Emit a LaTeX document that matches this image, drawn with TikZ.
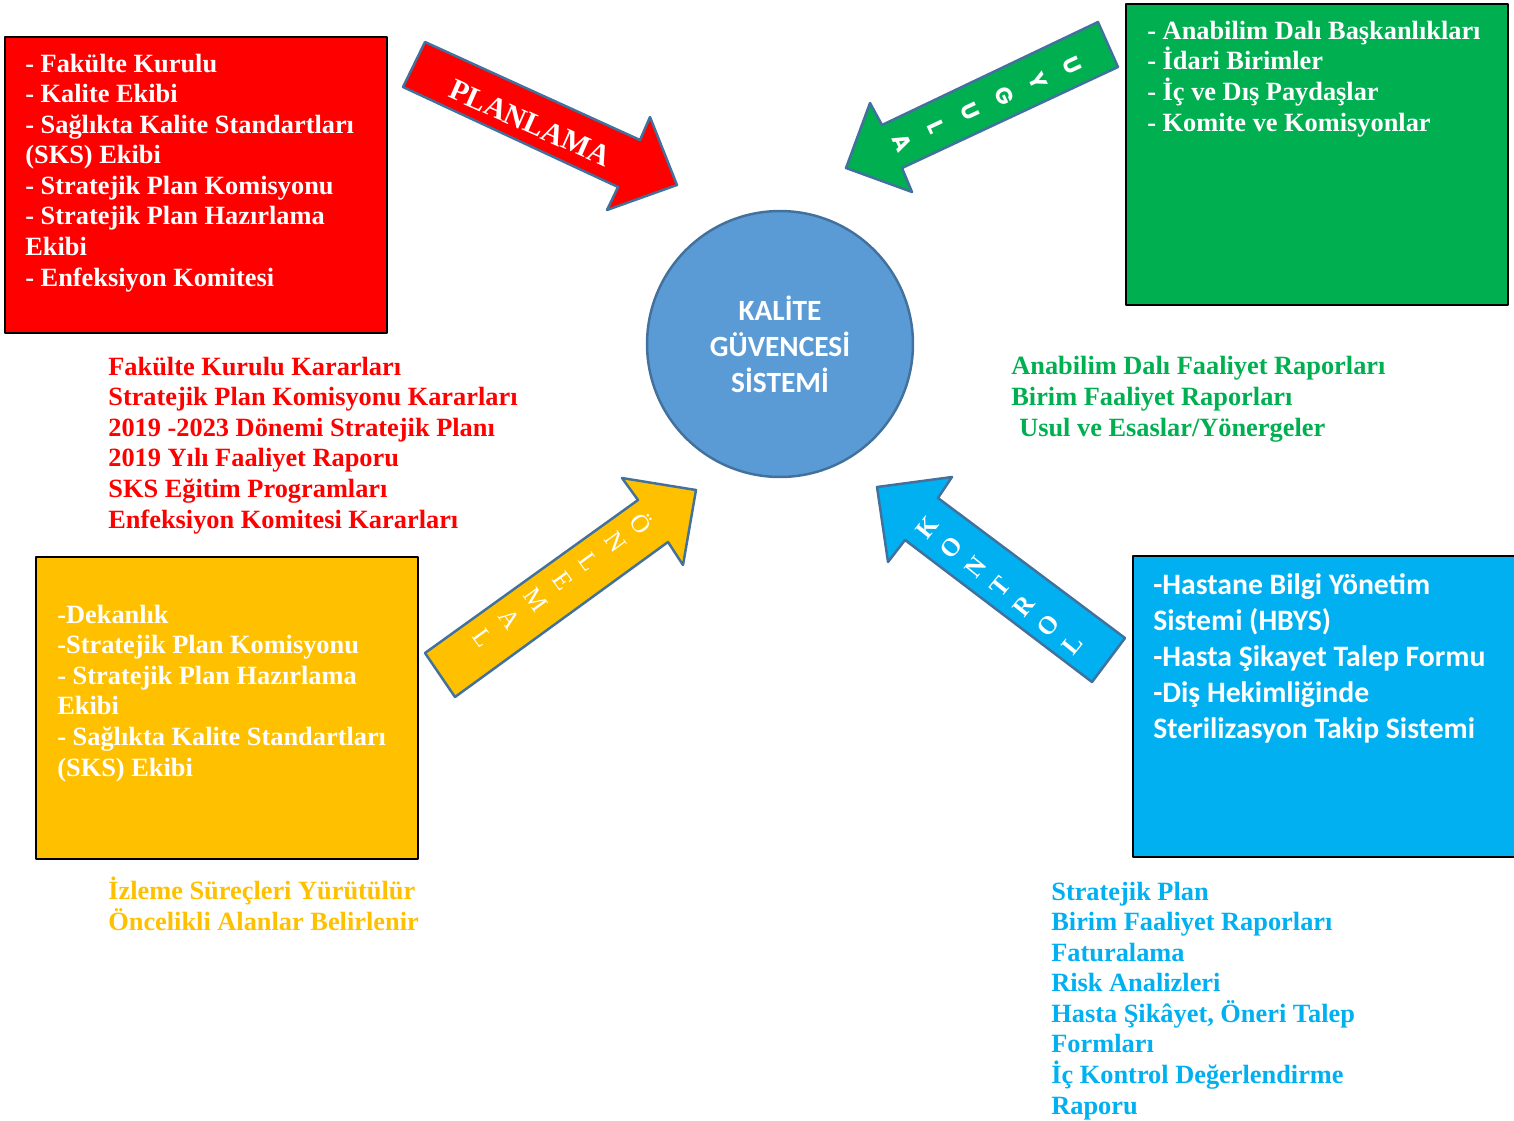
\documentclass[tikz,border=0pt]{standalone}
\usepackage{fontspec}
\setmainfont{Liberation Serif}
\newfontfamily\calibri{Carlito}
\newfontfamily\gothic{Poppins}
\definecolor{kirmizi}{HTML}{FF0000}
\definecolor{yesil}{HTML}{00B050}
\definecolor{sari}{HTML}{FFC000}
\definecolor{mavi}{HTML}{00B0F0}
\definecolor{merkez}{HTML}{5B9BD5}
\definecolor{kenar}{HTML}{41719C}

\begin{document}
\begin{tikzpicture}[x=0.02cm, y=-0.02cm, line join=round,
  kutu/.style={draw=black, line width=1.1pt},
  ok/.style={draw=kenar, line width=1.4pt},
  yazi/.style={anchor=base west, inner sep=0, align=left, font=\bfseries\fontsize{15}{17.4}\selectfont},
  harf/.style={inner sep=0, text=white}]
\useasboundingbox (0,0) rectangle (1514,1120);

\draw [kutu, fill=kirmizi] (5,37) rectangle (387,333);
\draw [kutu, fill=yesil] (1126,4) rectangle (1508,305);
\draw [kutu, fill=sari] (36,557) rectangle (418,859);
\draw [kutu, fill=mavi] (1133,556) rectangle (1525,857);

\draw [ok, fill=kirmizi] (425,42)--(640,140)--(650,117)--(677,185)--(607,210)--(618,187)--(403,87)--cycle;
\draw [ok, fill=yesil] (1098,22)--(1118,67)--(902,168)--(912,192)--(846,168)--(870,103)--(882,125)--cycle;
\draw [ok, fill=sari] (425,653)--(638,500)--(622,478)--(696,490)--(683,565)--(668,542)--(455,697)--cycle;
\draw [ok, fill=mavi] (877,487)--(952,477)--(938,498)--(1125,638)--(1092,682)--(905,540)--(888,562)--cycle;

\node [circle, draw=kenar, line width=1.4pt, fill=merkez, minimum size=5.32cm, text=white, align=center,
  font=\calibri\bfseries\fontsize{16.7}{20.4}\selectfont] (kgs) at (780,344) {KALİTE\\GÜVENCESİ\\SİSTEMİ};

\node [harf, rotate=-24, font=\bfseries\fontsize{17}{20}\selectfont] (planlama) at (530,123) {PLANLAMA};
\foreach \c [count=\i] in {U,Y,G,U,L,A}
  \node [harf, rotate=-65, font=\gothic\bfseries\fontsize{13}{15}\selectfont] (uygula\i) at ({1072-34*(\i-1)},{65+15.6*(\i-1)}) {\c};
\foreach \c [count=\i] in {Ö,N,L,E,M,A,L}
  \node [harf, rotate=-54, font=\fontsize{14.5}{16}\selectfont] (onlem\i) at ({642-26.5*(\i-1)},{523+19.2*(\i-1)}) {\c};
\foreach \c [count=\i] in {K,O,N,T,R,O,L}
  \node [harf, rotate=51, font=\bfseries\fontsize{14.5}{16}\selectfont] (kontrol\i) at ({927+24.3*(\i-1)},{528+19.5*(\i-1)}) {\c};

\node [yazi, text=white] (planlayan) at (25,286) {- Fakülte Kurulu\\- Kalite Ekibi\\- Sağlıkta Kalite Standartları\\(SKS) Ekibi\\- Stratejik Plan Komisyonu\\- Stratejik Plan Hazırlama\\Ekibi\\- Enfeksiyon Komitesi};
\node [yazi, text=white] (uygulayan) at (1147,131) {- Anabilim Dalı Başkanlıkları\\- İdari Birimler\\- İç ve Dış Paydaşlar\\- Komite ve Komisyonlar};
\node [yazi, text=white] (onlemalan) at (57,776) {-Dekanlık\\-Stratejik Plan Komisyonu\\- Stratejik Plan Hazırlama\\Ekibi\\- Sağlıkta Kalite Standartları\\(SKS) Ekibi};
\node [yazi, text=white, font=\calibri\bfseries\fontsize{16.9}{20.4}\selectfont] (kontroleden) at (1153,738) {-Hastane Bilgi Yönetim\\Sistemi (HBYS)\\-Hasta Şikayet Talep Formu\\-Diş Hekimliğinde\\Sterilizasyon Takip Sistemi};

\node [yazi, text=kirmizi] (plankanit) at (108,528) {Fakülte Kurulu Kararları\\Stratejik Plan Komisyonu Kararları\\2019 -2023 Dönemi Stratejik Planı\\2019 Yılı Faaliyet Raporu\\SKS Eğitim Programları\\Enfeksiyon Komitesi Kararları};
\node [yazi, text=yesil] (uygulakanit) at (1011,436) {Anabilim Dalı Faaliyet Raporları\\Birim Faaliyet Raporları\\\hspace*{0.3em}Usul ve Esaslar/Yönergeler};
\node [yazi, text=sari] (onlemkanit) at (108,930) {İzleme Süreçleri Yürütülür\\Öncelikli Alanlar Belirlenir};
\node [yazi, text=mavi] (kontrolkanit) at (1051,1114) {Stratejik Plan\\Birim Faaliyet Raporları\\Faturalama\\Risk Analizleri\\Hasta Şikâyet, Öneri Talep\\Formları\\İç Kontrol Değerlendirme\\Raporu};

\end{tikzpicture}
\end{document}
